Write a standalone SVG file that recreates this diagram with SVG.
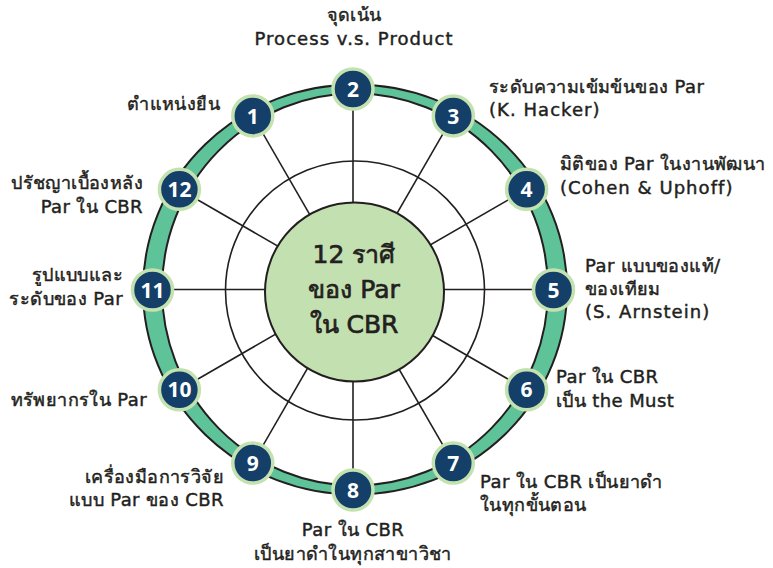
<svg xmlns="http://www.w3.org/2000/svg" width="773" height="568" viewBox="0 0 773 568">
<style>
.lbl{font-family:"DejaVu Sans","Noto Sans",sans-serif;font-size:18px;letter-spacing:0.4px;fill:#231f20;stroke:#231f20;stroke-width:0.45px}
.lat{letter-spacing:1.05px}
.num{font-family:"Open Sans","Noto Sans",sans-serif;font-size:21px;font-weight:700;fill:#ffffff;text-anchor:middle}
.node circle{fill:#133f68;stroke:#c3e2b0;stroke-width:3.5}
.spoke{stroke:#231f20;stroke-width:1.6}
.ctr{font-family:"DejaVu Sans","Noto Sans",sans-serif;font-size:25px;fill:#231f20;stroke:#231f20;stroke-width:0.7px;text-anchor:middle}
</style>
<rect width="773" height="568" fill="#ffffff"/>
<g id="ring">
<path d="M143 289.5 A212 205 0 1 0 567 289.5 A212 205 0 1 0 143 289.5 Z M162 289.5 A193 196 0 1 1 548 289.5 A193 196 0 1 1 162 289.5 Z" fill="#5fc39a" fill-rule="evenodd"/>
<ellipse cx="355" cy="289.5" rx="212" ry="205" fill="none" stroke="#231f20" stroke-width="2"/>
<ellipse cx="355" cy="289.5" rx="193" ry="196" fill="none" stroke="#231f20" stroke-width="2"/>
</g>
<g id="connectors">
<circle cx="355" cy="290.5" r="129.5" fill="none" stroke="#231f20" stroke-width="1.6"/>
<line class="spoke" x1="353" y1="289.5" x2="252.8" y2="115.9"/>
<line class="spoke" x1="353" y1="289.5" x2="353" y2="89"/>
<line class="spoke" x1="353" y1="289.5" x2="453.3" y2="115.9"/>
<line class="spoke" x1="353" y1="289.5" x2="526.6" y2="189.3"/>
<line class="spoke" x1="353" y1="289.5" x2="553.5" y2="289.5"/>
<line class="spoke" x1="353" y1="289.5" x2="526.6" y2="389.8"/>
<line class="spoke" x1="353" y1="289.5" x2="453.3" y2="463.1"/>
<line class="spoke" x1="353" y1="289.5" x2="353" y2="490"/>
<line class="spoke" x1="353" y1="289.5" x2="252.8" y2="463.1"/>
<line class="spoke" x1="353" y1="289.5" x2="179.4" y2="389.8"/>
<line class="spoke" x1="353" y1="289.5" x2="152.5" y2="289.5"/>
<line class="spoke" x1="353" y1="289.5" x2="179.4" y2="189.3"/>
</g>
<g id="center">
<circle cx="354.5" cy="292" r="89.5" fill="#c3e0b0" stroke="#231f20" stroke-width="2"/>
<text class="ctr" x="354" y="263">12 ราศี</text>
<text class="ctr" x="354" y="298">ของ Par</text>
<text class="ctr" x="354" y="333">ใน CBR</text>
</g>
<g id="n1" class="node"><circle cx="252.8" cy="115.9" r="20"/><text class="num" x="252.8" y="123.5">1</text>
<text class="lbl" x="220" y="110" text-anchor="end">ตำแหน่งยืน</text></g>
<g id="n2" class="node"><circle cx="353" cy="89" r="20"/><text class="num" x="353" y="96.6">2</text>
<text class="lbl" x="354" y="21" text-anchor="middle">จุดเน้น</text>
<text class="lbl lat" x="354" y="45" text-anchor="middle">Process v.s. Product</text></g>
<g id="n3" class="node"><circle cx="453.3" cy="115.9" r="20"/><text class="num" x="453.3" y="123.5">3</text>
<text class="lbl" x="489" y="93">ระดับความเข้มข้นของ Par</text>
<text class="lbl lat" x="489" y="116">(K. Hacker)</text></g>
<g id="n4" class="node"><circle cx="526.6" cy="189.3" r="20"/><text class="num" x="526.6" y="196.9">4</text>
<text class="lbl" x="560" y="170">มิติของ Par ในงานพัฒนา</text>
<text class="lbl lat" x="560" y="194">(Cohen &amp; Uphoff)</text></g>
<g id="n5" class="node"><circle cx="553.5" cy="290" r="20"/><text class="num" x="553.5" y="297.6">5</text>
<text class="lbl" x="585" y="272">Par แบบของแท้/</text>
<text class="lbl" x="585" y="295">ของเทียม</text>
<text class="lbl lat" x="585" y="318">(S. Arnstein)</text></g>
<g id="n6" class="node"><circle cx="526.6" cy="389.8" r="20"/><text class="num" x="526.6" y="397.4">6</text>
<text class="lbl" x="556" y="383">Par ใน CBR</text>
<text class="lbl" x="556" y="407">เป็น the Must</text></g>
<g id="n7" class="node"><circle cx="453.3" cy="463.1" r="20"/><text class="num" x="453.3" y="470.7">7</text>
<text class="lbl" x="480" y="488">Par ใน CBR เป็นยาดำ</text>
<text class="lbl" x="480" y="511">ในทุกขั้นตอน</text></g>
<g id="n8" class="node"><circle cx="353" cy="490" r="20"/><text class="num" x="353" y="497.6">8</text>
<text class="lbl" x="353" y="536" text-anchor="middle">Par ใน CBR</text>
<text class="lbl" x="353" y="560" text-anchor="middle">เป็นยาดำในทุกสาขาวิชา</text></g>
<g id="n9" class="node"><circle cx="252.8" cy="463.1" r="20"/><text class="num" x="252.8" y="470.7">9</text>
<text class="lbl" x="224" y="483" text-anchor="end">เครื่องมือการวิจัย</text>
<text class="lbl" x="224" y="506" text-anchor="end">แบบ Par ของ CBR</text></g>
<g id="n10" class="node"><circle cx="179.4" cy="389.8" r="20"/><text class="num" x="179.4" y="397.4">10</text>
<text class="lbl" x="147" y="406" text-anchor="end">ทรัพยากรใน Par</text></g>
<g id="n11" class="node"><circle cx="152.5" cy="290" r="20"/><text class="num" x="152.5" y="297.6">11</text>
<text class="lbl" x="123" y="281" text-anchor="end">รูปแบบและ</text>
<text class="lbl" x="123" y="305" text-anchor="end">ระดับของ Par</text></g>
<g id="n12" class="node"><circle cx="179.4" cy="189.3" r="20"/><text class="num" x="179.4" y="196.9">12</text>
<text class="lbl" x="143" y="189" text-anchor="end">ปรัชญาเบื้องหลัง</text>
<text class="lbl" x="143" y="213" text-anchor="end">Par ใน CBR</text></g>
</svg>
